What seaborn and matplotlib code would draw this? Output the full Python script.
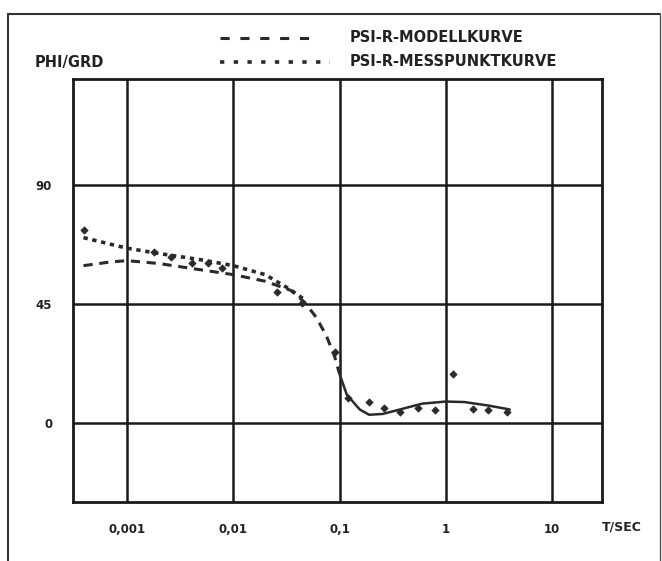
import numpy as np
import pandas as pd
import matplotlib
matplotlib.use("Agg")
import matplotlib.pyplot as plt
from matplotlib.lines import Line2D
import seaborn as sns

# ---- data ----
# model curve (dashed in the upper part, solid after the drop)
t_model = [0.00039, 0.0007, 0.001, 0.002, 0.005, 0.01, 0.02, 0.035, 0.047,
           0.06, 0.075, 0.09, 0.1, 0.117, 0.155, 0.19, 0.255, 0.37, 0.6,
           1.0, 1.5, 2.5, 4.0]
phi_model = [59.4, 60.8, 61.3, 60.2, 57.8, 56.0, 53.5, 50.0, 45.5,
             40.0, 33.0, 25.0, 18.5, 10.6, 5.0, 3.0, 3.3, 5.0, 7.2,
             8.0, 7.8, 6.5, 5.0]
split_t = 0.1

# measured point curve (dotted)
t_mess = [0.00039, 0.0007, 0.001, 0.002, 0.005, 0.01, 0.02, 0.034, 0.047]
phi_mess = [70.0, 67.5, 66.0, 64.0, 61.6, 59.4, 56.0, 50.5, 46.5]

# individual measured points
t_pts = [0.00039, 0.0018, 0.0026, 0.0041, 0.0058, 0.0078, 0.026, 0.044,
         0.09, 0.12, 0.19, 0.26, 0.37, 0.55, 0.79, 1.16, 1.8, 2.5, 3.8]
phi_pts = [73.0, 64.7, 62.8, 60.5, 60.5, 58.6, 49.5, 45.4,
           26.7, 9.5, 8.0, 5.7, 4.2, 5.7, 4.9, 18.5, 5.3, 4.9, 4.2]

x_ticks = [0.001, 0.01, 0.1, 1, 10]
x_ticklabels = ["0,001", "0,01", "0,1", "1", "10"]
y_ticks = [0, 45, 90]
y_ticklabels = ["0", "45", "90"]

label_model = "PSI-R-MODELLKURVE"
label_mess = "PSI-R-MESSPUNKTKURVE"
y_label = "PHI/GRD"
x_label = "T/SEC"

# ---- plotting ----
sns.set_theme(style="white")
plt.rcParams['font.family'] = ['DejaVu Sans']

fig = plt.figure(figsize=(6.62, 5.61), dpi=100)
ax = fig.add_axes([73/662, 1-502/561, (602-73)/662, (502-79)/561])

dfm = pd.DataFrame({"t": t_model, "phi": phi_model})
upper = dfm[dfm.t <= split_t]
lower = dfm[dfm.t >= split_t]
col = "#2a2a2a"
sns.lineplot(data=upper, x="t", y="phi", ax=ax, color=col, lw=2.2,
             linestyle=(0, (3, 2.2)), sort=False)
sns.lineplot(data=lower, x="t", y="phi", ax=ax, color=col, lw=1.8, sort=False)

dfs = pd.DataFrame({"t": t_mess, "phi": phi_mess})
sns.lineplot(data=dfs, x="t", y="phi", ax=ax, color=col, lw=2.6,
             linestyle=(0, (1.2, 1.3)), sort=False)

dfp = pd.DataFrame({"t": t_pts, "phi": phi_pts})
sns.scatterplot(data=dfp, x="t", y="phi", ax=ax, color=col, marker="D",
                s=14, edgecolor=col, linewidth=0.5)

ax.set_xscale("log")
ax.set_xlim(10**-3.508, 10**1.47)
ax.set_ylim(-30, 130)
ax.set_xticks(x_ticks)
ax.set_xticklabels(x_ticklabels)
ax.set_yticks(y_ticks)
ax.set_yticklabels(y_ticklabels)
ax.minorticks_off()
ax.tick_params(axis="both", length=0, labelsize=8.5, colors="#222222")
ax.tick_params(axis="x", pad=15)
ax.tick_params(axis="y", pad=15)
for lab in ax.get_xticklabels() + ax.get_yticklabels():
    lab.set_fontweight("bold")
ax.grid(True, color="#1a1a1a", lw=1.8)
for s in ax.spines.values():
    s.set_color("#1a1a1a")
    s.set_linewidth(2.0)
ax.set_xlabel("")
ax.set_ylabel("")

# axis captions
fig.text(35/662, 1-62/561, y_label, fontsize=10.5, fontweight="bold",
         color="#222222", va="center", ha="left")
fig.text(622/662, 1-527/561, x_label, fontsize=9, fontweight="bold",
         color="#222222", va="center", ha="center")

# legend drawn as in the plot header
fig.add_artist(Line2D([220/662, 312/662], [1-38/561, 1-38/561], color=col,
                      lw=2.2, linestyle=(0, (3, 3.5))))
fig.add_artist(Line2D([220/662, 330/662], [1-62/561, 1-62/561], color=col,
                      lw=2.6, linestyle=(0, (1.2, 2.6))))
fig.text(350/662, 1-38/561, label_model, fontsize=10.5, fontweight="bold",
         color="#222222", va="center", ha="left")
fig.text(350/662, 1-62/561, label_mess, fontsize=10.5, fontweight="bold",
         color="#222222", va="center", ha="left")

# outer frame
fig.add_artist(Line2D([8/662, 8/662], [0, 1-14/561], color="#333333", lw=1.5))
fig.add_artist(Line2D([8/662, 660/662], [1-14/561, 1-14/561], color="#333333", lw=1.5))
fig.add_artist(Line2D([660/662, 660/662], [0, 1-14/561], color="#555555", lw=1.0))

fig.savefig("out.png", dpi=100)
